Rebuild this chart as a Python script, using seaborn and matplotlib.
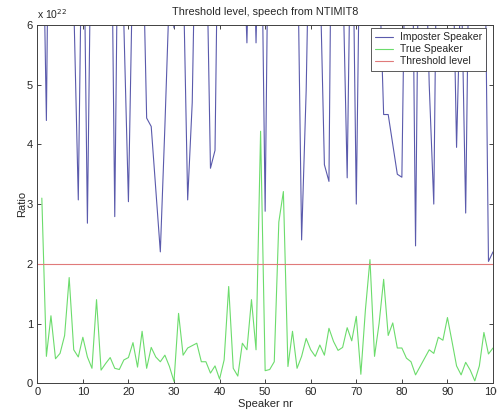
import numpy as np
import pandas as pd
import matplotlib
matplotlib.use("Agg")
import matplotlib.pyplot as plt
from matplotlib.lines import Line2D
import seaborn as sns

# speaker numbers
speakers = list(range(1, 101))

# ratio / 1e22, imposter speaker (values above 6 run off the top of the plot)
imposter = [9, 4.4, 12, 14, 13, 11, 9, 6.4, 3.07, 9,
            2.68, 9, 12, 14, 12, 10, 2.79, 10, 6.0, 3.04,
            7.3, 10, 8, 4.44, 4.3, 3.25, 2.2, 4.3, 6.6, 5.95,
            9, 7, 3.07, 4.7, 9, 10, 8, 3.6, 3.9, 10,
            12, 14, 12, 10, 8, 5.7, 9, 5.7, 9, 2.88,
            10, 12, 14, 12, 10, 9, 8, 2.4, 4.9, 9,
            12, 7, 3.66, 3.38, 12, 10, 7, 3.44, 9, 3.0,
            9, 12, 14, 10, 7, 4.5, 4.5, 4.0, 3.5, 3.45,
            9, 10, 2.3, 10, 8, 5.0, 3.0, 10, 12, 12,
            8, 3.95, 7, 2.85, 9, 12, 11, 9, 2.04, 2.2]

# ratio / 1e22, true speaker
true_spk = [3.1, 0.45, 1.13, 0.41, 0.5, 0.8, 1.77, 0.56, 0.44, 0.77,
            0.44, 0.25, 1.4, 0.22, 0.33, 0.43, 0.25, 0.23, 0.39, 0.43,
            0.68, 0.27, 0.87, 0.25, 0.6, 0.44, 0.36, 0.47, 0.28, 0.03,
            1.17, 0.47, 0.59, 0.63, 0.67, 0.36, 0.36, 0.17, 0.29, 0.07,
            0.39, 1.62, 0.25, 0.12, 0.67, 0.56, 1.4, 0.56, 4.22, 0.21,
            0.23, 0.36, 2.7, 3.21, 0.28, 0.87, 0.25, 0.45, 0.75, 0.56,
            0.45, 0.64, 0.47, 0.92, 0.7, 0.55, 0.6, 0.93, 0.71, 1.12,
            0.15, 1.23, 2.07, 0.45, 1.0, 1.74, 0.8, 1.01, 0.59, 0.59,
            0.42, 0.36, 0.14, 0.28, 0.42, 0.56, 0.5, 0.77, 0.72, 1.1,
            0.7, 0.29, 0.14, 0.35, 0.22, 0.04, 0.29, 0.85, 0.49, 0.59]

threshold = 2.0

labels = ["Imposter Speaker", "True Speaker", "Threshold level"]
colors = ["#5a5aac", "#6cdc6c", "#e07a7a"]

df = pd.DataFrame({
    "Speaker nr": speakers * 2,
    "Ratio": imposter + true_spk,
    "series": [labels[0]] * 100 + [labels[1]] * 100,
})

sns.set_style("white")
plt.rcParams["font.family"] = ["Liberation Sans", "DejaVu Sans"]

fig = plt.figure(figsize=(4.97, 4.09), dpi=100)
ax = fig.add_axes([0.075, 0.063, 0.917, 0.876])

sns.lineplot(data=df, x="Speaker nr", y="Ratio", hue="series",
             palette={labels[0]: colors[0], labels[1]: colors[1]},
             linewidth=0.8, ax=ax, legend=False)
ax.axhline(threshold, color=colors[2], linewidth=0.8)

ax.set_xlim(0, 100)
ax.set_ylim(0, 6)
ax.set_xticks(range(0, 101, 10))
ax.set_yticks(range(0, 7))
ax.tick_params(direction="in", length=3, width=0.6, labelsize=8,
               top=True, right=True, bottom=True, left=True, pad=3)
for s in ax.spines.values():
    s.set_color("#404040")
    s.set_linewidth(0.7)

ax.set_title("Threshold level, speech from NTIMIT8", fontsize=7.8, pad=7)
ax.set_xlabel("Speaker nr", fontsize=8, labelpad=1)
ax.set_ylabel("Ratio", fontsize=8, labelpad=0)
ax.text(0.0, 1.012, r"x 10$^{22}$", transform=ax.transAxes, fontsize=7.5,
        ha="left", va="bottom")

handles = [Line2D([], [], color=c, lw=0.8) for c in colors]
leg = ax.legend(handles, labels, loc="upper right",
                bbox_to_anchor=(486 / 497, 1 - 28 / 409),
                bbox_transform=fig.transFigure, borderaxespad=0,
                fontsize=7.5, frameon=True, fancybox=False,
                handlelength=1.75, handletextpad=0.65, labelspacing=0.2,
                borderpad=0.4)
leg.get_frame().set_edgecolor("#404040")
leg.get_frame().set_linewidth(0.6)
leg.get_frame().set_alpha(1)

fig.savefig("out.png", dpi=100)
